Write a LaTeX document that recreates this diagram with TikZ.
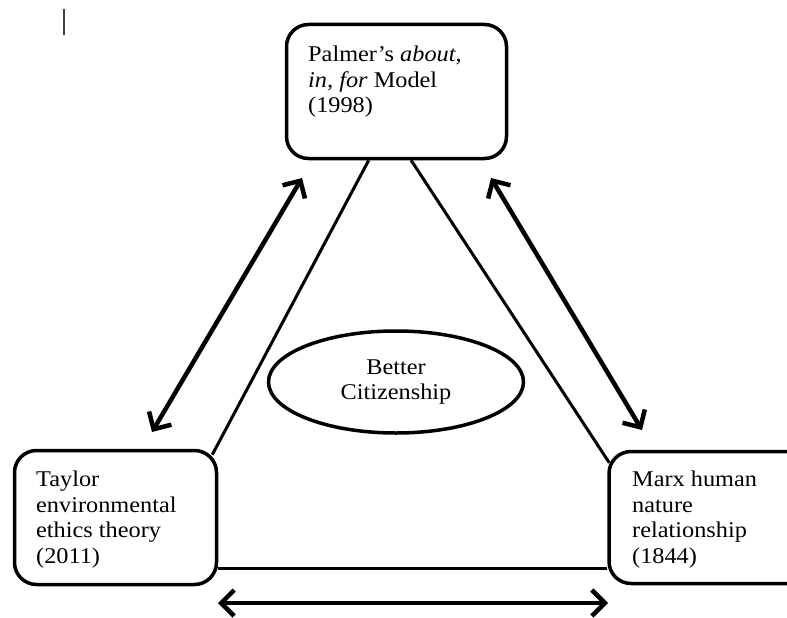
\documentclass[tikz,border=0pt]{standalone}
\usepackage{fontspec}
\setmainfont[FakeStretch=1.08]{Liberation Serif}
\usetikzlibrary{arrows.meta,shapes.geometric,calc}
\begin{document}
\begin{tikzpicture}[x=1pt,y=-1pt,
  box/.style={draw, line width=3.5pt, rounded corners=22pt, inner sep=0pt, fill=white},
  lbl/.style={anchor=north west, inner sep=0pt, align=left, font=\fontsize{22.5}{25.5}\selectfont},
  link/.style={line width=3pt},
  rel/.style={line width=4.5pt, {Straight Barb[length=13pt,width=26pt]}-{Straight Barb[length=13pt,width=26pt]}}]
\useasboundingbox (0,0) rectangle (787,618);
\clip (0,0) rectangle (787,618);
% boxes
\node[box, minimum width=220pt, minimum height=134pt] (top) at (396.5,91.5) {};
\node[box, minimum width=202pt, minimum height=134pt] (left) at (115.5,517.5) {};
\node[box, minimum width=202pt, minimum height=132pt] (right) at (710,517.5) {};
\node[draw, ellipse, line width=3.5pt, minimum width=255pt, minimum height=102pt, align=center,
      font=\fontsize{22.5}{25.5}\selectfont] (goal) at (396,382) {Better\\Citizenship};
% texts
\node[lbl] (ttop) at (308,46) {Palmer’s \textit{about,}\\\textit{in, for} Model\\(1998)};
\node[lbl] (tleft) at (36,471) {Taylor\\environmental\\ethics theory\\(2011)};
\node[lbl] (tright) at (632,471) {Marx human\\nature\\relationship\\(1844)};
% triangle
\draw[link] (top.248.85) -- ($(left.north east)+(-6,6)$);
\draw[link] (top.282.75) -- ($(right.north west)+(2,13)$);
\draw[link] ($(left.south east)+(0,-18)$) -- ($(right.south west)+(0,-17)$);
% relation arrows
\coordinate (a1) at (302,178); \coordinate (a2) at (152,432);
\draw[rel] (a2) -- (a1);
\coordinate (b1) at (491,178); \coordinate (b2) at (642,430);
\draw[rel] (b1) -- (b2);
\coordinate (c1) at (218,603); \coordinate (c2) at (608,603);
\draw[rel] (c1) -- (c2);
% cursor mark
\coordinate (cur1) at (64,9); \coordinate (cur2) at (64,35);
\draw[line width=1.3pt, black!75] (cur1) -- (cur2);
\end{tikzpicture}
\end{document}
